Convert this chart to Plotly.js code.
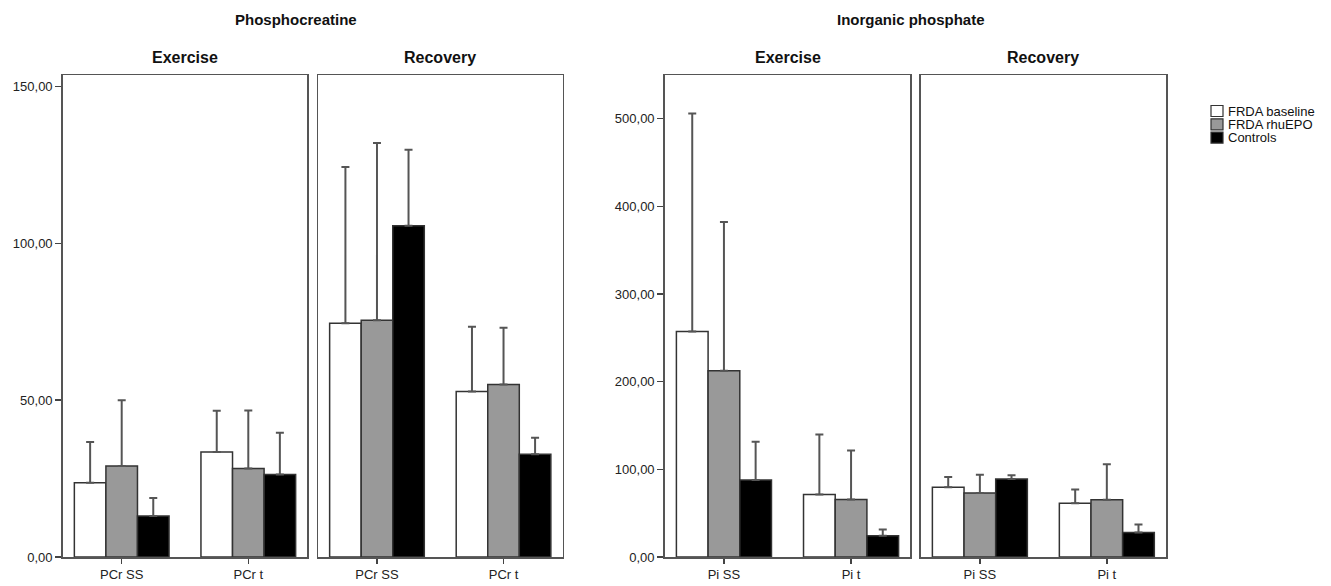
<!DOCTYPE html>
<html>
<head>
<meta charset="utf-8">
<script src="https://cdn.plot.ly/plotly-3.0.1.min.js"></script>
<style>html,body{margin:0;padding:0;background:#fff;}#chart{width:1331px;height:586px;}</style>
</head>
<body>
<div id="chart"></div>
<script>
// ---- data ----
const seriesNames = ['FRDA baseline', 'FRDA rhuEPO', 'Controls'];
const categoriesPCr = ['PCr SS', 'PCr t'];
const categoriesPi = ['Pi SS', 'Pi t'];

// Phosphocreatine – Exercise (mean, upper end of error bar)
const pcrExBaseline = [23.7, 33.5];   const pcrExBaselineUp = [36.7, 46.6];
const pcrExRhuEPO   = [29.0, 28.2];   const pcrExRhuEPOUp   = [50.0, 46.7];
const pcrExControls = [13.1, 26.3];   const pcrExControlsUp = [18.8, 39.6];
// Phosphocreatine – Recovery
const pcrRecBaseline = [74.5, 52.8];  const pcrRecBaselineUp = [124.4, 73.4];
const pcrRecRhuEPO   = [75.5, 55.0];  const pcrRecRhuEPOUp   = [132.0, 73.1];
const pcrRecControls = [105.6, 32.8]; const pcrRecControlsUp = [129.9, 38.0];
// Inorganic phosphate – Exercise
const piExBaseline = [257.2, 71.2];   const piExBaselineUp = [506.0, 139.8];
const piExRhuEPO   = [212.5, 65.5];   const piExRhuEPOUp   = [382.0, 121.6];
const piExControls = [87.9, 24.2];    const piExControlsUp = [131.4, 31.4];
// Inorganic phosphate – Recovery
const piRecBaseline = [79.5, 61.4];   const piRecBaselineUp = [91.3, 76.9];
const piRecRhuEPO   = [73.1, 65.2];   const piRecRhuEPOUp   = [93.9, 105.7];
const piRecControls = [89.0, 28.0];   const piRecControlsUp = [93.2, 37.0];

const pcrTicks = [0, 50, 100, 150];
const piTicks = [0, 100, 200, 300, 400, 500];

// ---- styling ----
const fills = ['#ffffff', '#999999', '#000000'];
const FONT = 'Liberation Sans, Arial, sans-serif';

function makeTrace(name, idx, cats, vals, ups, ax) {
  return {
    type: 'bar', name: name, x: cats, y: vals,
    xaxis: 'x' + ax, yaxis: 'y' + ax,
    showlegend: false,
    marker: {color: fills[idx], line: {color: '#333333', width: 1.5}},
    error_y: {type: 'data', symmetric: false,
      array: ups.map((u, i) => u - vals[i]),
      arrayminus: vals.map(() => 0),
      color: '#555555', thickness: 2, width: 4},
    hoverinfo: 'skip'
  };
}

const panels = [
  {ax: '', cats: categoriesPCr, v: [pcrExBaseline, pcrExRhuEPO, pcrExControls], u: [pcrExBaselineUp, pcrExRhuEPOUp, pcrExControlsUp]},
  {ax: '2', cats: categoriesPCr, v: [pcrRecBaseline, pcrRecRhuEPO, pcrRecControls], u: [pcrRecBaselineUp, pcrRecRhuEPOUp, pcrRecControlsUp]},
  {ax: '3', cats: categoriesPi, v: [piExBaseline, piExRhuEPO, piExControls], u: [piExBaselineUp, piExRhuEPOUp, piExControlsUp]},
  {ax: '4', cats: categoriesPi, v: [piRecBaseline, piRecRhuEPO, piRecControls], u: [piRecBaselineUp, piRecRhuEPOUp, piRecControlsUp]}
];

const traces = [];
panels.forEach(p => {
  for (let s = 0; s < 3; s++) traces.push(makeTrace(seriesNames[s], s, p.cats, p.v[s], p.u[s], p.ax));
});

const W = 1331, H = 586;
const yDom = [1 - 557 / H, 1 - 75 / H];
const xDoms = [[62.7, 307.3], [318, 562.5], [664.7, 910.3], [920.7, 1166]].map(d => [d[0] / W, d[1] / W]);

function xAxis(i) {
  return {
    domain: xDoms[i], anchor: i === 0 ? 'y' : 'y' + (i + 1),
    range: [-0.466, 1.466], type: 'category',
    showline: true, mirror: true, linecolor: '#555555', linewidth: 1.5,
    ticks: 'outside', ticklen: 5, tickcolor: '#444444', tickwidth: 1.5,
    tickfont: {family: FONT, size: 13, color: '#222222'},
    showgrid: false, zeroline: false, fixedrange: true
  };
}
function yAxis(i, range, ticks, showLabels) {
  return {
    domain: yDom, anchor: i === 0 ? 'x' : 'x' + (i + 1),
    range: range, tickvals: ticks, tickformat: '.2f',
    showticklabels: showLabels, ticks: showLabels ? 'outside' : '',
    ticklen: 6, tickcolor: '#444444', tickwidth: 1.5,
    tickfont: {family: FONT, size: 13, color: '#222222'},
    showline: true, mirror: true, linecolor: '#555555', linewidth: 1.5,
    showgrid: false, zeroline: false, fixedrange: true
  };
}

const pcrRange = [0, 153.7];
const piRange = [0, 549.8];

function ann(text, xPix, yPix, size) {
  return {text: '<b>' + text + '</b>', xref: 'paper', yref: 'paper',
    x: xPix / W, y: 1 - yPix / H, xanchor: 'center', yanchor: 'middle',
    showarrow: false, font: {family: FONT, size: size, color: '#111111'}};
}

// custom legend (SPSS-style compact rows)
const legendShapes = [], legendAnns = [];
seriesNames.forEach((name, i) => {
  const top = 105.5 + i * 13.3;
  legendShapes.push({type: 'rect', xref: 'paper', yref: 'paper',
    x0: 1211 / W, x1: 1223 / W, y0: 1 - (top + 11) / H, y1: 1 - top / H,
    fillcolor: fills[i], line: {color: '#333333', width: 1.2}});
  legendAnns.push({text: name, xref: 'paper', yref: 'paper',
    x: 1226 / W, y: 1 - (top + 5.5) / H, xanchor: 'left', yanchor: 'middle',
    showarrow: false, font: {family: FONT, size: 13, color: '#111111'}});
});

const layout = {
  width: W, height: H,
  margin: {l: 0, r: 0, t: 0, b: 0},
  paper_bgcolor: '#ffffff', plot_bgcolor: '#ffffff',
  separators: ',.',
  barmode: 'group', bargap: 0.252, bargroupgap: 0,
  font: {family: FONT, size: 12, color: '#222222'},
  showlegend: false,
  xaxis: xAxis(0), xaxis2: xAxis(1), xaxis3: xAxis(2), xaxis4: xAxis(3),
  yaxis: yAxis(0, pcrRange, pcrTicks, true),
  yaxis2: yAxis(1, pcrRange, pcrTicks, false),
  yaxis3: yAxis(2, piRange, piTicks, true),
  yaxis4: yAxis(3, piRange, piTicks, false),
  shapes: legendShapes,
  annotations: [
    ann('Phosphocreatine', 296, 20, 15),
    ann('Inorganic phosphate', 911, 20, 15),
    ann('Exercise', 185, 57, 16),
    ann('Recovery', 440, 57, 16),
    ann('Exercise', 787.5, 57, 16),
    ann('Recovery', 1043.4, 57, 16)
  ].concat(legendAnns)
};

Plotly.newPlot('chart', traces, layout, {displayModeBar: false, staticPlot: true});
</script>
</body>
</html>
